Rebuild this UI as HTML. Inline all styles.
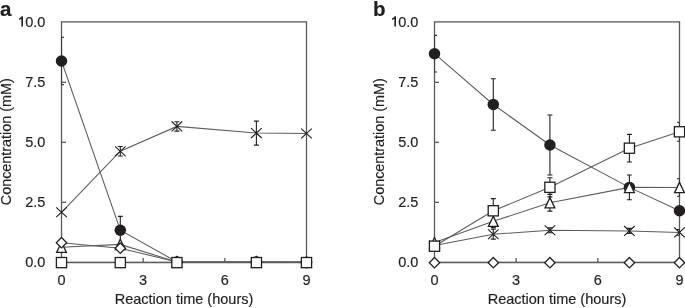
<!DOCTYPE html>
<html><head><meta charset="utf-8"><style>
html,body{margin:0;padding:0;background:#fff;width:685px;height:308px;overflow:hidden}
svg{display:block;will-change:transform;filter:blur(0.4px)}
text{font-family:"Liberation Sans",sans-serif;stroke:#231f20;stroke-width:0.18px}
</style></head><body>
<svg width="685" height="308" viewBox="0 0 685 308" font-family="'Liberation Sans', sans-serif">
<rect width="685" height="308" fill="#fff"/>
<clipPath id="clipa"><rect x="61.50" y="0" width="245.00" height="308"/></clipPath>
<rect x="61.50" y="21.90" width="245.00" height="240.40" fill="none" stroke="#5a5a5a" stroke-width="1.3"/>
<line x1="61.50" y1="82.30" x2="66.00" y2="82.30" stroke="#5a5a5a" stroke-width="1.3"/>
<line x1="61.50" y1="142.30" x2="66.00" y2="142.30" stroke="#5a5a5a" stroke-width="1.3"/>
<line x1="61.50" y1="202.30" x2="66.00" y2="202.30" stroke="#5a5a5a" stroke-width="1.3"/>
<line x1="143.16" y1="262.30" x2="143.16" y2="258.00" stroke="#5a5a5a" stroke-width="1.3"/>
<line x1="224.82" y1="262.30" x2="224.82" y2="258.00" stroke="#5a5a5a" stroke-width="1.3"/>
<polyline points="61.50,61.00 120.30,230.20 176.91,261.90 256.40,262.00 306.48,262.60" fill="none" stroke="#5c5c5c" stroke-width="1.05"/>
<polyline points="61.50,212.30 120.30,151.20 176.91,126.40 256.40,133.10 306.48,133.50" fill="none" stroke="#5c5c5c" stroke-width="1.05"/>
<polyline points="61.50,247.30 120.30,244.40 176.91,262.00 256.40,262.00 306.48,262.00" fill="none" stroke="#5c5c5c" stroke-width="1.05"/>
<polyline points="61.50,242.70 120.30,248.20 176.91,262.00 256.40,262.00 306.48,262.00" fill="none" stroke="#5c5c5c" stroke-width="1.05"/>
<polyline points="61.50,262.60 120.30,262.60 176.91,262.60 256.40,262.60 306.48,262.60" fill="none" stroke="#5c5c5c" stroke-width="1.05"/>
<path d="M61.50 37.20V84.80M59.00 37.20H64.00M59.00 84.80H64.00M120.30 216.40V244.00M117.80 216.40H122.80M117.80 244.00H122.80M120.30 146.45V155.95M117.80 146.45H122.80M117.80 155.95H122.80M176.91 121.70V131.10M174.41 121.70H179.41M174.41 131.10H179.41M256.40 121.10V145.10M253.90 121.10H258.90M253.90 145.10H258.90" stroke="#231f20" stroke-width="1.1" fill="none" clip-path="url(#clipa)"/>
<circle cx="61.50" cy="61.00" r="5.75" fill="#231f20"/>
<circle cx="120.30" cy="230.20" r="5.75" fill="#231f20"/>
<circle cx="176.91" cy="261.90" r="5.75" fill="#231f20"/>
<circle cx="256.40" cy="262.00" r="5.75" fill="#231f20"/>
<circle cx="306.48" cy="262.60" r="5.75" fill="#231f20"/>
<path d="M56.20 207.40L66.80 217.20M66.80 207.40L56.20 217.20" stroke="#231f20" stroke-width="1.12" fill="none"/>
<path d="M115.00 146.30L125.60 156.10M125.60 146.30L115.00 156.10" stroke="#231f20" stroke-width="1.12" fill="none"/>
<path d="M171.61 121.50L182.21 131.30M182.21 121.50L171.61 131.30" stroke="#231f20" stroke-width="1.12" fill="none"/>
<path d="M251.10 128.20L261.70 138.00M261.70 128.20L251.10 138.00" stroke="#231f20" stroke-width="1.12" fill="none"/>
<path d="M301.18 128.60L311.78 138.40M311.78 128.60L301.18 138.40" stroke="#231f20" stroke-width="1.12" fill="none"/>
<path d="M61.50 242.15L66.40 252.45L56.60 252.45Z" fill="#fff" stroke="#231f20" stroke-width="1.3" stroke-linejoin="miter"/>
<path d="M120.30 239.25L125.20 249.55L115.40 249.55Z" fill="#fff" stroke="#231f20" stroke-width="1.3" stroke-linejoin="miter"/>
<path d="M176.91 256.85L181.81 267.15L172.01 267.15Z" fill="#fff" stroke="#231f20" stroke-width="1.3" stroke-linejoin="miter"/>
<path d="M256.40 256.85L261.30 267.15L251.50 267.15Z" fill="#fff" stroke="#231f20" stroke-width="1.3" stroke-linejoin="miter"/>
<path d="M306.48 256.85L311.38 267.15L301.58 267.15Z" fill="#fff" stroke="#231f20" stroke-width="1.3" stroke-linejoin="miter"/>
<path d="M61.50 237.50L66.70 242.70L61.50 247.90L56.30 242.70Z" fill="#fff" stroke="#231f20" stroke-width="1.3"/>
<path d="M120.30 243.00L125.50 248.20L120.30 253.40L115.10 248.20Z" fill="#fff" stroke="#231f20" stroke-width="1.3"/>
<path d="M176.91 256.80L182.11 262.00L176.91 267.20L171.71 262.00Z" fill="#fff" stroke="#231f20" stroke-width="1.3"/>
<path d="M256.40 256.80L261.60 262.00L256.40 267.20L251.20 262.00Z" fill="#fff" stroke="#231f20" stroke-width="1.3"/>
<path d="M306.48 256.80L311.68 262.00L306.48 267.20L301.28 262.00Z" fill="#fff" stroke="#231f20" stroke-width="1.3"/>
<rect x="56.40" y="257.50" width="10.20" height="10.20" fill="#fff" stroke="#231f20" stroke-width="1.3"/>
<rect x="115.20" y="257.50" width="10.20" height="10.20" fill="#fff" stroke="#231f20" stroke-width="1.3"/>
<rect x="171.81" y="257.50" width="10.20" height="10.20" fill="#fff" stroke="#231f20" stroke-width="1.3"/>
<rect x="251.30" y="257.50" width="10.20" height="10.20" fill="#fff" stroke="#231f20" stroke-width="1.3"/>
<rect x="301.38" y="257.50" width="10.20" height="10.20" fill="#fff" stroke="#231f20" stroke-width="1.3"/>
<text x="0.00" y="15.50" font-size="20.5" font-weight="bold" fill="#231f20">a</text>
<text x="45.40" y="26.90" font-size="14.5" text-anchor="end" fill="#231f20">0.0</text>
<text x="45.40" y="87.00" font-size="14.5" text-anchor="end" fill="#231f20">7.5</text>
<text x="45.40" y="147.10" font-size="14.5" text-anchor="end" fill="#231f20">5.0</text>
<text x="45.40" y="207.20" font-size="14.5" text-anchor="end" fill="#231f20">2.5</text>
<text x="45.40" y="267.30" font-size="14.5" text-anchor="end" fill="#231f20">0.0</text>
<path d="M23.00 16.3V26.6H21.35V18.7C20.70 19.3 19.90 19.8 19.00 20.1V18.6C20.30 18.0 21.20 17.2 21.70 16.3Z" fill="#231f20"/>
<text x="61.50" y="284.80" font-size="14.5" text-anchor="middle" fill="#231f20">0</text>
<text x="143.16" y="284.80" font-size="14.5" text-anchor="middle" fill="#231f20">3</text>
<text x="224.82" y="284.80" font-size="14.5" text-anchor="middle" fill="#231f20">6</text>
<text x="306.48" y="284.80" font-size="14.5" text-anchor="middle" fill="#231f20">9</text>
<text x="184.00" y="304.10" font-size="14.5" text-anchor="middle" fill="#231f20">Reaction time (hours)</text>
<text x="0" y="0" transform="translate(11.00,141.70) rotate(-90) scale(1,1.08)" font-size="14.4" text-anchor="middle" fill="#231f20">Concentration (mM)</text>
<clipPath id="clipb"><rect x="434.50" y="0" width="245.00" height="308"/></clipPath>
<rect x="434.50" y="21.90" width="245.00" height="240.40" fill="none" stroke="#5a5a5a" stroke-width="1.3"/>
<line x1="434.50" y1="82.30" x2="439.00" y2="82.30" stroke="#5a5a5a" stroke-width="1.3"/>
<line x1="434.50" y1="142.30" x2="439.00" y2="142.30" stroke="#5a5a5a" stroke-width="1.3"/>
<line x1="434.50" y1="202.30" x2="439.00" y2="202.30" stroke="#5a5a5a" stroke-width="1.3"/>
<line x1="516.16" y1="262.30" x2="516.16" y2="258.00" stroke="#5a5a5a" stroke-width="1.3"/>
<line x1="597.82" y1="262.30" x2="597.82" y2="258.00" stroke="#5a5a5a" stroke-width="1.3"/>
<polyline points="434.50,53.70 493.30,104.50 549.91,145.00 629.40,187.40 679.48,210.70" fill="none" stroke="#5c5c5c" stroke-width="1.05"/>
<polyline points="434.50,245.50 493.30,234.20 549.91,230.30 629.40,230.90 679.48,232.40" fill="none" stroke="#5c5c5c" stroke-width="1.05"/>
<polyline points="434.50,242.60 493.30,221.30 549.91,202.75 629.40,187.40 679.48,187.50" fill="none" stroke="#5c5c5c" stroke-width="1.05"/>
<polyline points="434.50,262.70 493.30,262.70 549.91,262.70 629.40,262.70 679.48,262.70" fill="none" stroke="#5c5c5c" stroke-width="1.05"/>
<polyline points="434.50,246.20 493.30,210.80 549.91,187.30 629.40,148.20 679.48,131.80" fill="none" stroke="#5c5c5c" stroke-width="1.05"/>
<path d="M434.50 35.40V72.00M432.00 35.40H437.00M432.00 72.00H437.00M493.30 78.70V130.30M490.80 78.70H495.80M490.80 130.30H495.80M549.91 115.00V175.00M547.41 115.00H552.41M547.41 175.00H552.41M493.30 229.30V239.10M490.80 229.30H495.80M490.80 239.10H495.80M549.91 227.90V232.70M547.41 227.90H552.41M547.41 232.70H552.41M629.40 228.40V233.40M626.90 228.40H631.90M626.90 233.40H631.90M679.48 229.50V235.30M676.98 229.50H681.98M676.98 235.30H681.98M493.30 215.00V227.60M490.80 215.00H495.80M490.80 227.60H495.80M549.91 194.40V211.10M547.41 194.40H552.41M547.41 211.10H552.41M629.40 175.00V199.80M626.90 175.00H631.90M626.90 199.80H631.90M679.48 178.70V196.30M676.98 178.70H681.98M676.98 196.30H681.98M493.30 198.60V223.00M490.80 198.60H495.80M490.80 223.00H495.80M549.91 177.70V196.90M547.41 177.70H552.41M547.41 196.90H552.41M629.40 134.40V162.00M626.90 134.40H631.90M626.90 162.00H631.90M679.48 122.30V141.30M676.98 122.30H681.98M676.98 141.30H681.98" stroke="#231f20" stroke-width="1.1" fill="none" clip-path="url(#clipb)"/>
<circle cx="434.50" cy="53.70" r="5.75" fill="#231f20"/>
<circle cx="493.30" cy="104.50" r="5.75" fill="#231f20"/>
<circle cx="549.91" cy="145.00" r="5.75" fill="#231f20"/>
<circle cx="629.40" cy="187.40" r="5.75" fill="#231f20"/>
<circle cx="679.48" cy="210.70" r="5.75" fill="#231f20"/>
<path d="M429.20 240.60L439.80 250.40M439.80 240.60L429.20 250.40" stroke="#231f20" stroke-width="1.12" fill="none"/>
<path d="M488.00 229.30L498.60 239.10M498.60 229.30L488.00 239.10" stroke="#231f20" stroke-width="1.12" fill="none"/>
<path d="M544.61 225.40L555.21 235.20M555.21 225.40L544.61 235.20" stroke="#231f20" stroke-width="1.12" fill="none"/>
<path d="M624.10 226.00L634.70 235.80M634.70 226.00L624.10 235.80" stroke="#231f20" stroke-width="1.12" fill="none"/>
<path d="M674.18 227.50L684.78 237.30M684.78 227.50L674.18 237.30" stroke="#231f20" stroke-width="1.12" fill="none"/>
<path d="M434.50 237.45L439.40 247.75L429.60 247.75Z" fill="#fff" stroke="#231f20" stroke-width="1.3" stroke-linejoin="miter"/>
<path d="M493.30 216.15L498.20 226.45L488.40 226.45Z" fill="#fff" stroke="#231f20" stroke-width="1.3" stroke-linejoin="miter"/>
<path d="M549.91 197.60L554.81 207.90L545.01 207.90Z" fill="#fff" stroke="#231f20" stroke-width="1.3" stroke-linejoin="miter"/>
<path d="M629.40 182.25L634.30 192.55L624.50 192.55Z" fill="#fff" stroke="#231f20" stroke-width="1.3" stroke-linejoin="miter"/>
<path d="M679.48 182.35L684.38 192.65L674.58 192.65Z" fill="#fff" stroke="#231f20" stroke-width="1.3" stroke-linejoin="miter"/>
<path d="M434.50 257.50L439.70 262.70L434.50 267.90L429.30 262.70Z" fill="#fff" stroke="#231f20" stroke-width="1.3"/>
<path d="M493.30 257.50L498.50 262.70L493.30 267.90L488.10 262.70Z" fill="#fff" stroke="#231f20" stroke-width="1.3"/>
<path d="M549.91 257.50L555.11 262.70L549.91 267.90L544.71 262.70Z" fill="#fff" stroke="#231f20" stroke-width="1.3"/>
<path d="M629.40 257.50L634.60 262.70L629.40 267.90L624.20 262.70Z" fill="#fff" stroke="#231f20" stroke-width="1.3"/>
<path d="M679.48 257.50L684.68 262.70L679.48 267.90L674.28 262.70Z" fill="#fff" stroke="#231f20" stroke-width="1.3"/>
<rect x="429.40" y="241.10" width="10.20" height="10.20" fill="#fff" stroke="#231f20" stroke-width="1.3"/>
<rect x="488.20" y="205.70" width="10.20" height="10.20" fill="#fff" stroke="#231f20" stroke-width="1.3"/>
<rect x="544.81" y="182.20" width="10.20" height="10.20" fill="#fff" stroke="#231f20" stroke-width="1.3"/>
<rect x="624.30" y="143.10" width="10.20" height="10.20" fill="#fff" stroke="#231f20" stroke-width="1.3"/>
<rect x="674.38" y="126.70" width="10.20" height="10.20" fill="#fff" stroke="#231f20" stroke-width="1.3"/>
<text x="373.00" y="15.50" font-size="20.5" font-weight="bold" fill="#231f20">b</text>
<text x="418.40" y="26.90" font-size="14.5" text-anchor="end" fill="#231f20">0.0</text>
<text x="418.40" y="87.00" font-size="14.5" text-anchor="end" fill="#231f20">7.5</text>
<text x="418.40" y="147.10" font-size="14.5" text-anchor="end" fill="#231f20">5.0</text>
<text x="418.40" y="207.20" font-size="14.5" text-anchor="end" fill="#231f20">2.5</text>
<text x="418.40" y="267.30" font-size="14.5" text-anchor="end" fill="#231f20">0.0</text>
<path d="M396.00 16.3V26.6H394.35V18.7C393.70 19.3 392.90 19.8 392.00 20.1V18.6C393.30 18.0 394.20 17.2 394.70 16.3Z" fill="#231f20"/>
<text x="434.50" y="284.80" font-size="14.5" text-anchor="middle" fill="#231f20">0</text>
<text x="516.16" y="284.80" font-size="14.5" text-anchor="middle" fill="#231f20">3</text>
<text x="597.82" y="284.80" font-size="14.5" text-anchor="middle" fill="#231f20">6</text>
<text x="679.48" y="284.80" font-size="14.5" text-anchor="middle" fill="#231f20">9</text>
<text x="557.00" y="304.10" font-size="14.5" text-anchor="middle" fill="#231f20">Reaction time (hours)</text>
<text x="0" y="0" transform="translate(384.00,141.70) rotate(-90) scale(1,1.08)" font-size="14.4" text-anchor="middle" fill="#231f20">Concentration (mM)</text>
</svg>
</body></html>
